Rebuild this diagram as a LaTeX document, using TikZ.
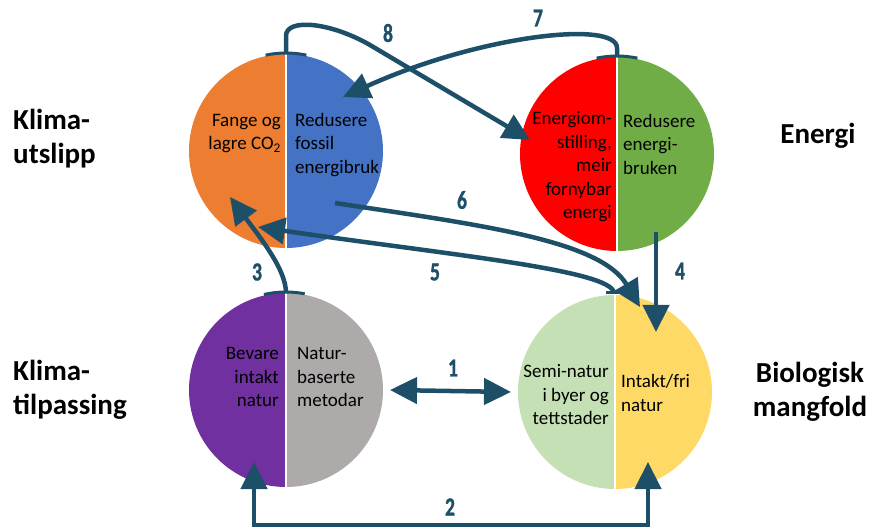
\documentclass[tikz,border=0pt]{standalone}
\usepackage{fontspec}
\setmainfont{Carlito}
\newfontfamily\numfont[UprightFont={* Bold},FakeStretch=0.75,FakeBold=1.2]{Carlito}
\usetikzlibrary{arrows.meta}

\definecolor{linkc}{RGB}{30,79,104}
\definecolor{corange}{RGB}{237,125,49}
\definecolor{cblue}{RGB}{68,114,196}
\definecolor{cred}{RGB}{255,0,0}
\definecolor{cgreen}{RGB}{112,173,71}
\definecolor{cpurple}{RGB}{112,48,160}
\definecolor{cgrey}{RGB}{174,170,170}
\definecolor{clgreen}{RGB}{197,224,180}
\definecolor{cyellow}{RGB}{255,217,102}

\begin{document}
\begin{tikzpicture}[x=1pt,y=1pt,
        disc/.style={circle,minimum size=194pt,inner sep=0pt,outer sep=0pt},
        link/.style={draw=linkc,line width=4.5pt,-{Triangle[length=27pt,width=26pt]}},
        both/.style={{Triangle[length=27pt,width=26pt]}-{Triangle[length=27pt,width=26pt]}},
        tick/.style={draw=linkc,line width=3pt},
        num/.style={text=linkc,font=\numfont\fontsize{26}{26}\selectfont},
        lbl/.style={font=\fontsize{19}{23.5}\selectfont,inner sep=0pt},
        side/.style={font=\bfseries\fontsize{29}{34}\selectfont,inner sep=0pt}]
\useasboundingbox (0,0) rectangle (873,-529);

% circles
\node[disc] (utslipp) at (286,-151) {};
\node[disc] (energi) at (617,-154) {};
\node[disc] (tilpass) at (286,-390) {};
\node[disc] (mangfold) at (615,-392) {};

\foreach \n/\cl/\cr in {utslipp/corange/cblue, energi/cred/cgreen,
        tilpass/cpurple/cgrey, mangfold/clgreen/cyellow} {
    \fill[\cl] (\n.north) arc[start angle=90,end angle=270,radius=97pt] -- cycle;
    \fill[\cr] (\n.north) arc[start angle=90,end angle=-90,radius=97pt] -- cycle;
    \draw[white,line width=1.5pt] (\n.north) -- (\n.south);
}

% texts in the circles
\node[lbl,anchor=east,align=right] (fange) at (281,-133.5) {Fange og\\lagre CO\textsubscript{2}};
\node[lbl,anchor=west,align=left] (fossil) at (295,-145) {Redusere\\fossil\\energibruk};
\node[lbl,anchor=east,align=right] (omst) at (612,-167) {Energiom-\\stilling,\\meir\\fornybar\\energi};
\node[lbl,anchor=west,align=left] (bruk) at (623,-144) {Redusere\\energi-\\bruken};
\node[lbl,anchor=east,align=right] (bevare) at (279,-377) {Bevare\\intakt\\natur};
\node[lbl,anchor=west,align=left] (nbl) at (297,-377) {Natur-\\baserte\\metodar};
\node[lbl,anchor=east,align=right] (semi) at (609,-395) {Semi-natur\\i byer og\\tettstader};
\node[lbl,anchor=west,align=left] (intakt) at (621,-393) {Intakt/fri\\natur};

% side labels
\node[side,anchor=west,align=left] (klu) at (13,-139) {Klima-\\utslipp};
\node[side] (ene) at (818,-136) {Energi};
\node[side,anchor=west,align=left] (klt) at (13,-390) {Klima-\\tilpassing};
\node[side,align=center] (bio) at (810,-392) {Biologisk\\mangfold};

% arrow ends
\coordinate (a8) at (530,-140);
\coordinate (a7) at (343,-97);
\coordinate (s6) at (335,-203);
\coordinate (a6) at (640,-307);
\coordinate (a5) at (258,-227);
\coordinate (s5) at (614,-293);
\coordinate (a3) at (230,-197);
\coordinate (s4) at (656,-232);
\coordinate (a4) at (656,-332);
\coordinate (a2l) at (254,-462);
\coordinate (a2r) at (648,-462);

% brackets
\draw[tick] (utslipp.center) ++(102:98) arc[start angle=102,end angle=78,radius=98];
\draw[tick] (energi.center) ++(102:98) arc[start angle=102,end angle=78,radius=98];
\draw[tick] (tilpass.center) ++(103:98) arc[start angle=103,end angle=79,radius=98];
\draw[tick] (614,-293) ++(-8,0) -- ++(16,0);

% arrows
\draw[link] (utslipp.north) -- (286,-36) .. controls (286,-18) and (330,-22) .. (370,-45) -- (a8);
\draw[link] (energi.north) -- (617,-48) .. controls (617,-20) and (480,-35) .. (a7);
\draw[link] (s6) .. controls (480,-225) and (600,-240) .. (a6);
\draw[link] (s5) .. controls (612,-270) and (450,-255) .. (a5);
\draw[link] (tilpass.north) .. controls (286,-270) and (262,-240) .. (a3);
\draw[link] (s4) -- (a4);
\draw[link,both] ([xshift=7pt]tilpass.east) -- ([xshift=-7pt]mangfold.west);
\draw[link,both] (a2l) -- (254,-525) -- (648,-525) -- (a2r);

% numbers
\node[num] (n1) at (453,-368) {1};
\node[num] (n2) at (450,-507) {2};
\node[num] (n3) at (257,-272) {3};
\node[num] (n4) at (680,-271) {4};
\node[num] (n5) at (435,-272) {5};
\node[num] (n6) at (462,-200) {6};
\node[num] (n7) at (538,-18) {7};
\node[num] (n8) at (388,-33) {8};

\end{tikzpicture}
\end{document}
